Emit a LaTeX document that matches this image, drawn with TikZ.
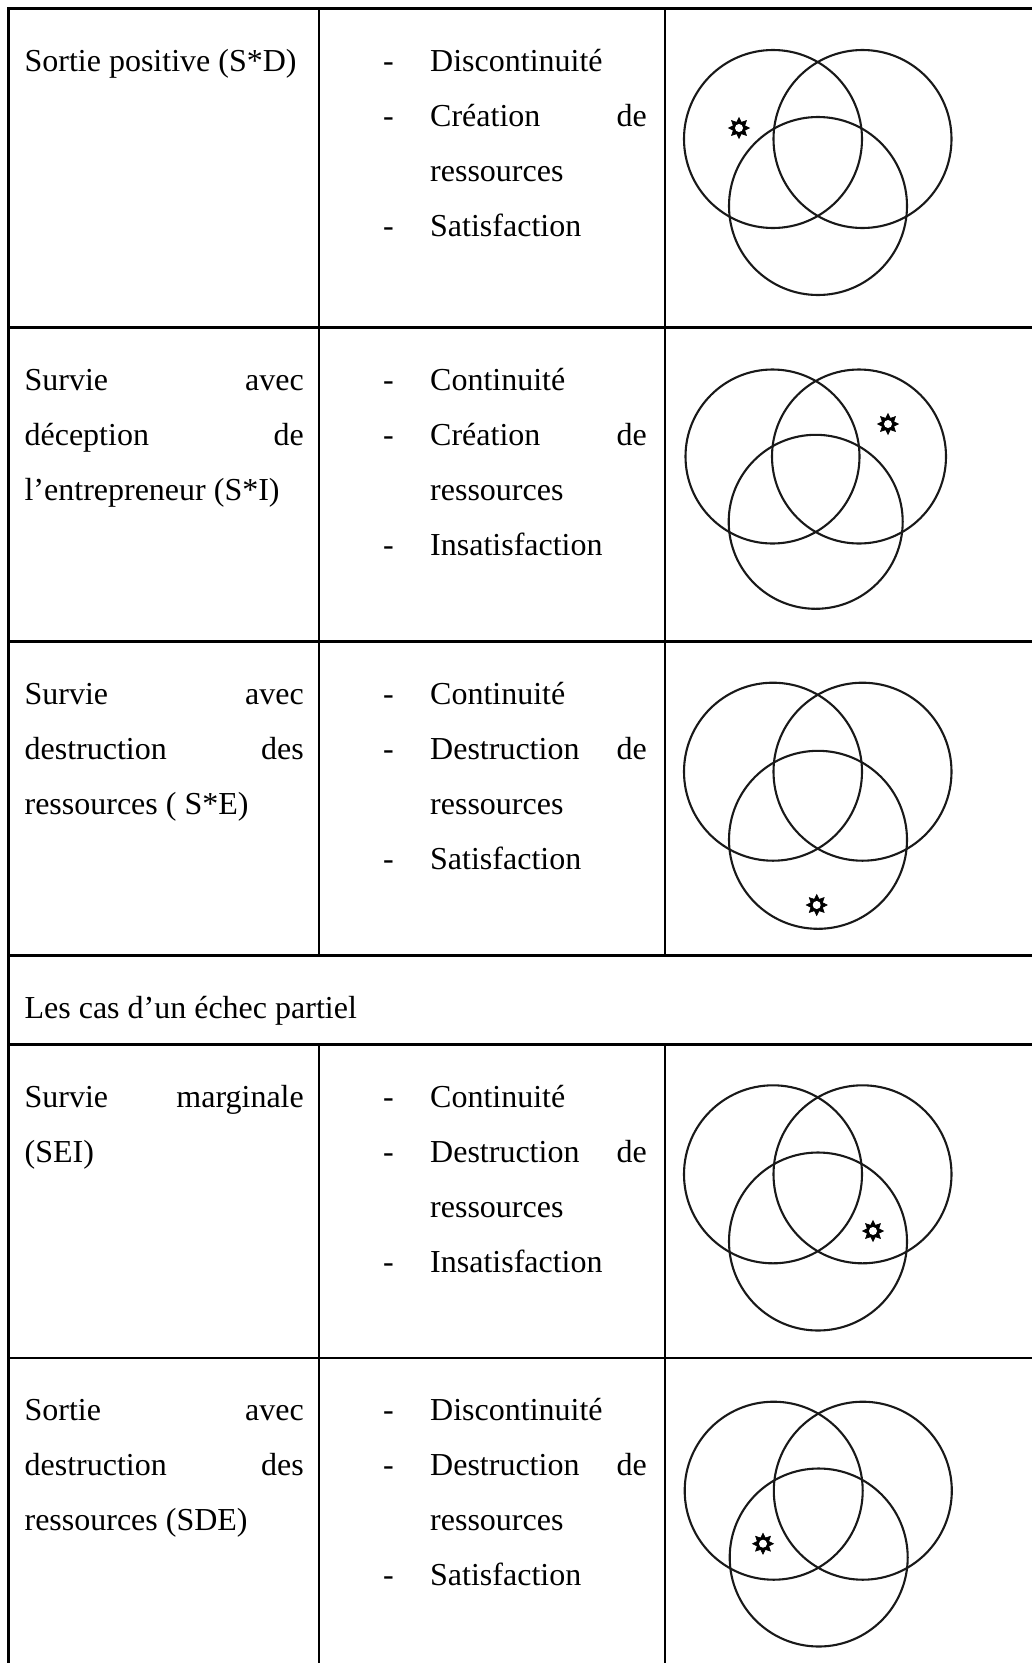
\documentclass[tikz,border=0pt]{standalone}
\usepackage{fontspec}
\setmainfont{Liberation Serif}
\usetikzlibrary{shapes.geometric}
\begin{document}
\begin{tikzpicture}[x=1pt,y=-1pt,
  rule/.style={line width=2.4pt,black},
  txt/.style={inner sep=0pt,font=\fontsize{32}{55}\selectfont},
  lt/.style={txt,anchor=base west},
  rt/.style={txt,anchor=base east},
  vc/.style={circle,draw=black!90,line width=2.1pt,inner sep=0pt,minimum size=178pt},
  starmark/.style={star,star points=8,star point ratio=1.7,fill=black,draw=black,line width=0.6pt,minimum size=21pt,inner sep=0pt},
  starhole/.style={circle,fill=white,inner sep=0pt,minimum size=8pt}]
\useasboundingbox (0,0) rectangle (1032,1663);
% ---------- table rules ----------
\coordinate (tl) at (8.5,8.5);
\coordinate (bl) at (8.5,1663);
\draw[rule] (tl) -- (bl);
\coordinate (c1t) at (319,8.5);   \coordinate (c1m) at (319,955.5);
\coordinate (c1n) at (319,1044.5);\coordinate (c1b) at (319,1663);
\coordinate (c2t) at (665,8.5);   \coordinate (c2m) at (665,955.5);
\coordinate (c2n) at (665,1044.5);\coordinate (c2b) at (665,1663);
\draw[rule] (c1t) -- (c1m) (c1n) -- (c1b);
\draw[rule] (c2t) -- (c2m) (c2n) -- (c2b);
\foreach \yy/\nm in {8.5/h0,327.5/h1,641.5/h2,955.5/h3,1044.5/h4,1358/h5}{
  \coordinate (\nm l) at (7.3,\yy);
  \coordinate (\nm r) at (1032,\yy);
  \draw[rule] (\nm l) -- (\nm r);
}
% ---------- row 1 ----------
\node[lt] (r1a) at (24.4,71) {Sortie positive (S*D)};
\node[lt] (r1d1) at (383,71) {-};     \node[lt] (r1b1) at (430,71) {Discontinuité};
\node[lt] (r1d2) at (383,126.1) {-};  \node[lt] (r1b2) at (430,126.1) {Création};
\node[rt] (r1b2e) at (647,126.1) {de};
\node[lt] (r1b3) at (430,181.2) {ressources};
\node[lt] (r1d4) at (383,236.3) {-};  \node[lt] (r1b4) at (430,236.3) {Satisfaction};
\node[vc] (v1a) at (773,139) {};
\node[vc] (v1b) at (862.5,139) {};
\node[vc] (v1c) at (818,206) {};
\node[starmark] (s1) at (739,128) {};
\node[starhole] (s1h) at (s1.center) {};
% ---------- row 2 ----------
\node[lt] (r2a1) at (24.4,390) {Survie};
\node[rt] (r2a1e) at (304,390) {avec};
\node[lt] (r2a2) at (24.4,445.1) {déception};
\node[rt] (r2a2e) at (304,445.1) {de};
\node[lt] (r2a3) at (24.4,500.2) {l’entrepreneur (S*I)};
\node[lt] (r2d1) at (383,390) {-};    \node[lt] (r2b1) at (430,390) {Continuité};
\node[lt] (r2d2) at (383,445.1) {-};  \node[lt] (r2b2) at (430,445.1) {Création};
\node[rt] (r2b2e) at (647,445.1) {de};
\node[lt] (r2b3) at (430,500.2) {ressources};
\node[lt] (r2d4) at (383,555.3) {-};  \node[lt] (r2b4) at (430,555.3) {Insatisfaction};
\node[vc,minimum size=174pt] (v2a) at (772.5,456.5) {};
\node[vc,minimum size=174pt] (v2b) at (859,456.5) {};
\node[vc,minimum size=174pt] (v2c) at (815.7,521.8) {};
\node[starmark] (s2) at (888,424) {};
\node[starhole] (s2h) at (s2.center) {};
% ---------- row 3 ----------
\node[lt] (r3a1) at (24.4,704) {Survie};
\node[rt] (r3a1e) at (304,704) {avec};
\node[lt] (r3a2) at (24.4,759.1) {destruction};
\node[rt] (r3a2e) at (304,759.1) {des};
\node[lt] (r3a3) at (24.4,814.2) {ressources ( S*E)};
\node[lt] (r3d1) at (383,704) {-};    \node[lt] (r3b1) at (430,704) {Continuité};
\node[lt] (r3d2) at (383,759.1) {-};  \node[lt] (r3b2) at (430,759.1) {Destruction};
\node[rt] (r3b2e) at (647,759.1) {de};
\node[lt] (r3b3) at (430,814.2) {ressources};
\node[lt] (r3d4) at (383,869.3) {-};  \node[lt] (r3b4) at (430,869.3) {Satisfaction};
\node[vc] (v3a) at (773,771.7) {};
\node[vc] (v3b) at (862.5,771.7) {};
\node[vc] (v3c) at (818,839.8) {};
\node[starmark] (s3) at (816.7,905) {};
\node[starhole] (s3h) at (s3.center) {};
% ---------- row 4 ----------
\node[lt] (r4) at (24.4,1018) {Les cas d’un échec partiel};
% ---------- row 5 ----------
\node[lt] (r5a1) at (24.4,1107) {Survie};
\node[rt] (r5a1e) at (304,1107) {marginale};
\node[lt] (r5a2) at (24.4,1162.1) {(SEI)};
\node[lt] (r5d1) at (383,1107) {-};    \node[lt] (r5b1) at (430,1107) {Continuité};
\node[lt] (r5d2) at (383,1162.1) {-};  \node[lt] (r5b2) at (430,1162.1) {Destruction};
\node[rt] (r5b2e) at (647,1162.1) {de};
\node[lt] (r5b3) at (430,1217.2) {ressources};
\node[lt] (r5d4) at (383,1272.3) {-};  \node[lt] (r5b4) at (430,1272.3) {Insatisfaction};
\node[vc] (v5a) at (773,1174.3) {};
\node[vc] (v5b) at (862.5,1174.3) {};
\node[vc] (v5c) at (818,1241.5) {};
\node[starmark] (s5) at (873,1231) {};
\node[starhole] (s5h) at (s5.center) {};
% ---------- row 6 ----------
\node[lt] (r6a1) at (24.4,1420.5) {Sortie};
\node[rt] (r6a1e) at (304,1420.5) {avec};
\node[lt] (r6a2) at (24.4,1475.6) {destruction};
\node[rt] (r6a2e) at (304,1475.6) {des};
\node[lt] (r6a3) at (24.4,1530.7) {ressources (SDE)};
\node[lt] (r6d1) at (383,1420.5) {-};   \node[lt] (r6b1) at (430,1420.5) {Discontinuité};
\node[lt] (r6d2) at (383,1475.6) {-};   \node[lt] (r6b2) at (430,1475.6) {Destruction};
\node[rt] (r6b2e) at (647,1475.6) {de};
\node[lt] (r6b3) at (430,1530.7) {ressources};
\node[lt] (r6d4) at (383,1585.8) {-};   \node[lt] (r6b4) at (430,1585.8) {Satisfaction};
\node[vc] (v6a) at (773.7,1490.7) {};
\node[vc] (v6b) at (862.8,1490.7) {};
\node[vc] (v6c) at (818.7,1557.5) {};
\node[starmark] (s6) at (763,1543.7) {};
\node[starhole] (s6h) at (s6.center) {};
\end{tikzpicture}
\end{document}
